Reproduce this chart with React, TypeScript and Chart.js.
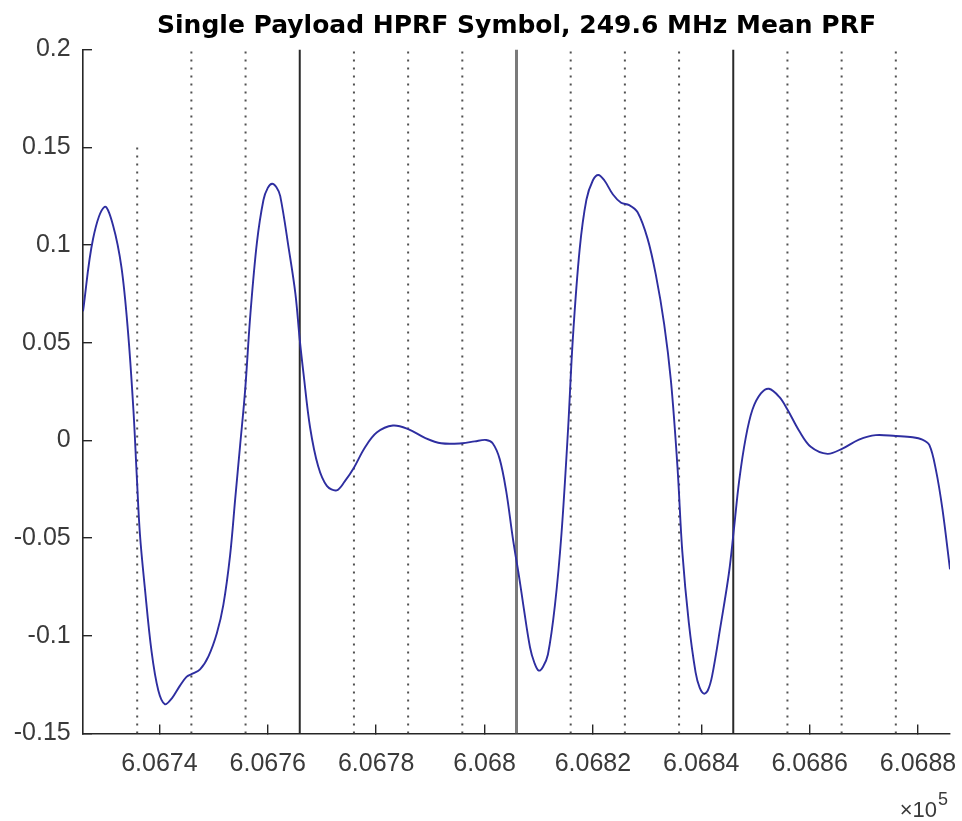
import React, { useEffect, useRef } from "react";
import { Chart, registerables } from "chart.js";

Chart.register(...registerables);

// ---- data ----
const titleText = "Single Payload HPRF Symbol, 249.6 MHz Mean PRF";

const curveX = [
  606725.9, 606727.75, 606729.9, 606731.45, 606733.0, 606734.2, 606735.2, 606735.8, 606736.4, 606737.3,
  606738.55, 606739.8, 606741.0, 606742.3, 606743.8, 606745.0, 606746.0, 606747.5, 606749.05, 606750.6,
  606751.8, 606753.05, 606754.0, 606754.9, 606755.8, 606756.8, 606758.0, 606759.2, 606760.0, 606760.8,
  606761.6, 606762.3, 606763.9, 606765.1, 606765.9, 606766.6, 606767.8, 606769.3, 606770.9, 606772.7,
  606774.2, 606775.9, 606777.9, 606780.1, 606783.1, 606785.9, 606789.0, 606792.0, 606795.9, 606798.2,
  606800.3, 606801.5, 606802.8, 606804.0, 606805.2, 606806.5, 606807.15, 606808.4, 606809.2, 606810.0,
  606810.8, 606811.7, 606813.0, 606814.2, 606815.4, 606816.3, 606817.55, 606818.8, 606820.0, 606821.0,
  606822.1, 606823.7, 606825.2, 606826.7, 606828.25, 606830.1, 606831.6, 606833.15, 606834.4, 606835.6,
  606836.5, 606837.7, 606838.95, 606839.7, 606840.5, 606841.2, 606842.0, 606843.55, 606845.1, 606846.0,
  606847.0, 606848.2, 606849.45, 606851.0, 606852.5, 606854.4, 606855.9, 606858.05, 606860.2, 606863.3,
  606866.05, 606869.1, 606872.2, 606875.9, 606879.0, 606880.8, 606882.1, 606883.3, 606884.5, 606885.9,
];

const curveY = [
  0.066, 0.103, 0.1195, 0.11, 0.0885, 0.0558, 0.0158, -0.0169, -0.0478, -0.0751,
  -0.108, -0.128, -0.135, -0.132, -0.1255, -0.121, -0.1195, -0.1172, -0.1105, -0.0987,
  -0.0842, -0.0587, -0.0296, -0.0024, 0.0249, 0.0649, 0.1013, 0.123, 0.1292, 0.1313,
  0.1295, 0.125, 0.0976, 0.075, 0.0515, 0.034, 0.0067, -0.0133, -0.0233, -0.0256,
  -0.021, -0.014, -0.0038, 0.004, 0.0076, 0.0058, 0.0013, -0.0015, -0.0015, -0.0005,
  0.0002, -0.0015, -0.0096, -0.026, -0.0496, -0.072, -0.0842, -0.106, -0.1138, -0.1178,
  -0.1158, -0.1096, -0.0842, -0.0478, 0.0049, 0.0522, 0.0976, 0.1231, 0.1331, 0.1358,
  0.1331, 0.1258, 0.1216, 0.1204, 0.1167, 0.1031, 0.0849, 0.0595, 0.0304, -0.0133,
  -0.0569, -0.0933, -0.1187, -0.1265, -0.1296, -0.128, -0.1205, -0.0951, -0.068, -0.046,
  -0.0205, 0.0013, 0.0158, 0.024, 0.0264, 0.0222, 0.0158, 0.0049, -0.0033, -0.0069,
  -0.0042, 0.0004, 0.0027, 0.0022, 0.0016, 0.0004, -0.0024, -0.0151, -0.0351, -0.066,
];

const dottedMarkerX = [
  606735.9, 606745.9, 606755.9, 606775.9, 606785.9, 606795.9,
  606815.9, 606825.9, 606835.9, 606855.9, 606865.9, 606875.9,
];
const dottedMarkerTop = [0.15, 0.2, 0.2, 0.2, 0.2, 0.2, 0.2, 0.2, 0.2, 0.2, 0.2, 0.2];
const solidMarkerX = [606765.9, 606845.9];
const centerMarkerX = [606805.9];

const xMin = 606725.9;
const xMax = 606885.9;
const yMin = -0.15;
const yMax = 0.2;

const xTickValues = [606740, 606760, 606780, 606800, 606820, 606840, 606860, 606880];
const xTickLabels = ["6.0674", "6.0676", "6.0678", "6.068", "6.0682", "6.0684", "6.0686", "6.0688"];
const yTickValues = [-0.15, -0.1, -0.05, 0, 0.05, 0.1, 0.15, 0.2];
const yTickLabels = ["-0.15", "-0.1", "-0.05", "0", "0.05", "0.1", "0.15", "0.2"];
const exponentBase = "\u00d710";
const exponentPower = "5";

// ---- styles ----
const AXIS = "#262626";
const LABEL = "#3a3a3a";
const TICK_FONT = { family: "'Liberation Sans', Arial, Helvetica, sans-serif", size: 25 };

export default function App() {
  const canvasRef = useRef<HTMLCanvasElement | null>(null);

  useEffect(() => {
    const canvas = canvasRef.current;
    if (!canvas) return;

    const curve = {
      label: "signal",
      data: curveX.map((x, i) => ({ x, y: curveY[i] })),
      borderColor: "#2e2ea0",
      borderWidth: 1.9,
      pointRadius: 0,
      tension: 0.35,
      fill: false,
    };

    const dotted = dottedMarkerX.map((x, i) => ({
      label: "dotted" + i,
      data: [
        { x, y: yMin },
        { x, y: dottedMarkerTop[i] },
      ],
      borderColor: "#505050",
      borderWidth: 2,
      borderDash: [2, 6],
      borderCapStyle: "butt" as const,
      pointRadius: 0,
      tension: 0,
      fill: false,
    }));

    const solid = solidMarkerX.map((x, i) => ({
      label: "solid" + i,
      data: [
        { x, y: yMin },
        { x, y: yMax },
      ],
      borderColor: "#2a2a2a",
      borderWidth: 2,
      pointRadius: 0,
      tension: 0,
      fill: false,
    }));

    const center = centerMarkerX.map((x, i) => ({
      label: "center" + i,
      data: [
        { x, y: yMin },
        { x, y: yMax },
      ],
      borderColor: "#7a7a7a",
      borderWidth: 3,
      pointRadius: 0,
      tension: 0,
      fill: false,
    }));

    const textPlugin = {
      id: "matlabText",
      afterDraw(chart: any) {
        const { ctx, chartArea } = chart;
        ctx.save();
        ctx.fillStyle = "#000";
        ctx.font = "bold 25px 'DejaVu Sans', Verdana, sans-serif";
        ctx.textAlign = "center";
        ctx.textBaseline = "alphabetic";
        ctx.fillText(titleText, (chartArea.left + chartArea.right) / 2, 33);

        ctx.fillStyle = LABEL;
        ctx.textAlign = "right";
        ctx.font = "22px 'Liberation Sans', Arial, sans-serif";
        ctx.fillText(exponentBase, chartArea.right - 13, 817);
        ctx.textAlign = "left";
        ctx.font = "18px 'Liberation Sans', Arial, sans-serif";
        ctx.fillText(exponentPower, chartArea.right - 12, 805);
        ctx.restore();
      },
    };

    const chart = new Chart(canvas, {
      type: "line",
      data: { datasets: [curve, ...center, ...solid, ...dotted] as any },
      options: {
        animation: false,
        responsive: false,
        devicePixelRatio: 1,
        layout: { padding: { left: 0, right: 12, top: 49.5, bottom: 0 } },
        plugins: {
          legend: { display: false },
          tooltip: { enabled: false },
          title: { display: false },
        },
        scales: {
          x: {
            type: "linear",
            min: xMin,
            max: xMax,
            afterBuildTicks: (s: any) => {
              s.ticks = xTickValues.map((v) => ({ value: v }));
            },
            afterFit: (s: any) => {
              s.height = 87.5;
              s.paddingLeft = 0;
              s.paddingRight = 0;
            },
            ticks: {
              autoSkip: false,
              maxRotation: 0,
              minRotation: 0,
              padding: 24.5,
              color: LABEL,
              font: TICK_FONT,
              callback: (_v: any, i: number) => xTickLabels[i],
            },
            grid: {
              drawOnChartArea: false,
              drawTicks: true,
              tickLength: -9,
              color: AXIS,
              lineWidth: 1.4,
            },
            border: { display: true, color: AXIS, width: 1.6 },
          },
          y: {
            type: "linear",
            min: yMin,
            max: yMax,
            afterBuildTicks: (s: any) => {
              s.ticks = yTickValues.map((v) => ({ value: v }));
            },
            afterFit: (s: any) => {
              s.width = 83;
              s.paddingTop = 0;
              s.paddingBottom = 0;
            },
            ticks: {
              autoSkip: false,
              padding: 21.3,
              color: LABEL,
              font: TICK_FONT,
              callback: (_v: any, i: number) => yTickLabels[i],
            },
            grid: {
              drawOnChartArea: false,
              drawTicks: true,
              tickLength: -9,
              color: AXIS,
              lineWidth: 1.4,
            },
            border: { display: true, color: AXIS, width: 1.6 },
          },
        },
      },
      plugins: [textPlugin],
    });

    return () => {
      chart.destroy();
    };
  }, []);

  return (
    <div style={{ position: "absolute", left: 0, top: 0, width: 962, height: 821, background: "#fff" }}>
      <canvas ref={canvasRef} width={962} height={821} style={{ display: "block" }} />
    </div>
  );
}
